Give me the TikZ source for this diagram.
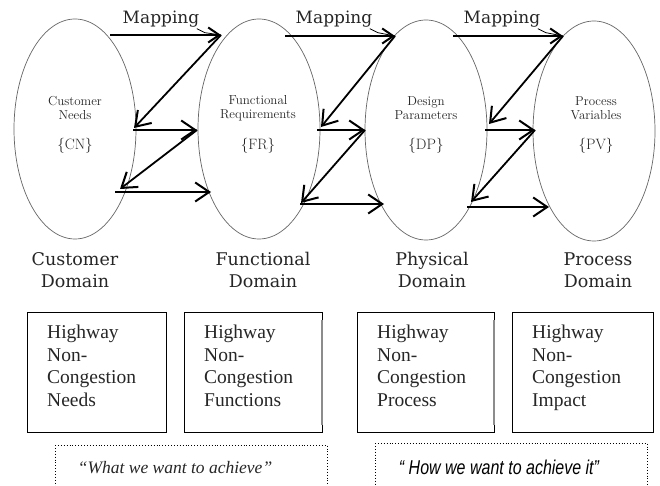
\documentclass[tikz,border=0pt]{standalone}
\usepackage{fontspec}
\setmainfont{Liberation Serif}
\newfontfamily\dvs{DejaVu Serif}
\newfontfamily\lms{Latin Modern Roman}
\newfontfamily\lsans{Liberation Sans}
\usetikzlibrary{shapes.geometric,arrows.meta}
\begin{document}
\begin{tikzpicture}[x=1pt,y=-1pt,
  dom/.style={ellipse,draw=black!60,line width=0.7pt,minimum width=122pt,minimum height=220pt,inner sep=0pt},
  intext/.style={font=\lms\fontsize{13}{14}\selectfont,align=center,text=black!85},
  abbr/.style={font=\lms\fontsize{15}{15}\selectfont,text=black!85},
  domlabel/.style={font=\dvs\fontsize{17.5}{22}\selectfont,align=center,text=black!85},
  maplabel/.style={font=\dvs\fontsize{17}{17}\selectfont,text=black!85},
  arr/.style={line width=1.8pt,-{Straight Barb[length=14pt,width=19pt,line width=2pt]}},
  arrs/.style={line width=1.8pt,-{Straight Barb[length=11pt,width=15pt,line width=2pt]}},
  infobox/.style={draw=black,line width=0.8pt,minimum width=139pt,minimum height=120pt,anchor=north west,inner sep=0pt},
  boxtext/.style={font=\fontsize{19.5}{22.5}\selectfont,align=left,anchor=north west,inner sep=0pt,text=black!85},
  dotbox/.style={draw=black,dotted,line width=0.9pt}]
\useasboundingbox (0,0) rectangle (660,486);
\clip (0,0) rectangle (660,486);
\fill[white] (0,0) rectangle (660,486);
% ellipses
\node[dom] (CN) at (75,129) {};
\node[dom] (FR) at (259,129) {};
\node[dom] (DP) at (426,130) {};
\node[dom] (PV) at (594,131) {};
% inner texts
\node[intext] (cnt) at (75,108) {Customer\\Needs};
\node[abbr] (cna) at (75,146) {\{CN\}};
\node[intext] (frt) at (258,108) {Functional\\Requirements};
\node[abbr] (fra) at (258,146) {\{FR\}};
\node[intext] (dpt) at (426,108) {Design\\Parameters};
\node[abbr] (dpa) at (426,146) {\{DP\}};
\node[intext] (pvt) at (596,108) {Process\\Variables};
\node[abbr] (pva) at (596,146) {\{PV\}};
% mapping labels
\node[maplabel] (m1) at (161,19) {Mapping};
\node[maplabel] (m2) at (334,19) {Mapping};
\node[maplabel] (m3) at (502,19) {Mapping};
% arrow coordinates
\coordinate (a0) at (110,35); \coordinate (a1) at (221,35);
\coordinate (a2) at (134,128); \coordinate (a3) at (133,130); \coordinate (a4) at (197,130);
\coordinate (a5) at (120,189); \coordinate (a6) at (115,192); \coordinate (a7) at (211,192);
\coordinate (b0) at (285,36); \coordinate (b1) at (395,36);
\coordinate (b2) at (321,127); \coordinate (b3) at (317,130); \coordinate (b4) at (365,130);
\coordinate (b5) at (301,203); \coordinate (b6) at (300,204); \coordinate (b7) at (384,204);
\coordinate (c0) at (453,36); \coordinate (c1) at (563,36);
\coordinate (c2) at (489,124); \coordinate (c3) at (485,130); \coordinate (c4) at (535,130);
\coordinate (c5) at (471,202); \coordinate (c6) at (467,207); \coordinate (c7) at (549,207);
% small hook from Mapping to arrow tip
\draw[line width=0.8pt] (m1.south east) ++(-6,-2) -- ++(8,4) -- (a1);
\draw[line width=0.8pt] (m2.south east) ++(-6,-2) -- ++(8,4) -- (b1);
\draw[line width=0.8pt] (m3.south east) ++(-6,-2) -- ++(8,4) -- (c1);
\foreach \p in {a,b,c}{
  \draw[arrs] (\p0) -- (\p1);
  \draw[arr] (\p1) -- (\p2);
  \draw[arr] (\p3) -- (\p4);
  \draw[arr] (\p4) -- (\p5);
  \draw[arr] (\p6) -- (\p7);
}
% domain labels
\node[domlabel] (d1) at (75,270) {Customer\\Domain};
\node[domlabel] (d2) at (263,270) {Functional\\Domain};
\node[domlabel] (d3) at (432,270) {Physical\\Domain};
\node[domlabel] (d4) at (598,270) {Process\\Domain};
% boxes
\node[infobox] (B1) at (27,312) {};
\node[infobox,minimum width=138pt] (B2) at (184,312) {};
\node[infobox,minimum width=137pt] (B3) at (357,312) {};
\node[infobox,minimum width=141pt] (B4) at (512,312) {};
\draw[black!45,line width=2pt] ([xshift=-1pt,yshift=-8pt]B2.north east) -- ([xshift=-1pt,yshift=8pt]B2.south east);
\draw[black!45,line width=2pt] ([xshift=-1pt,yshift=-8pt]B3.north east) -- ([xshift=-1pt,yshift=8pt]B3.south east);
\node[boxtext] (t1) at (47,325) {Highway\\Non-\\Congestion\\Needs};
\node[boxtext] (t2) at (204,325) {Highway\\Non-\\Congestion\\Functions};
\node[boxtext] (t3) at (377,325) {Highway\\Non-\\Congestion\\Process};
\node[boxtext] (t4) at (532,325) {Highway\\Non-\\Congestion\\Impact};
% dotted boxes
\draw[dotbox] (55,445) -- (327,445) -- (327,500);
\draw[dotbox] (55,445) -- (55,500);
\draw[dotbox] (375,443) -- (647,443) -- (647,500);
\draw[dotbox] (375,443) -- (375,500);
\node[font=\itshape\fontsize{17.5}{17.5}\selectfont,text=black!85] (q1) at (175,468) {“What we want to achieve”};
\node[font=\lsans\itshape\fontsize{20}{20}\selectfont,text=black,xscale=0.8] (q2) at (499,467) {“ How we want to achieve it”};
\end{tikzpicture}
\end{document}
